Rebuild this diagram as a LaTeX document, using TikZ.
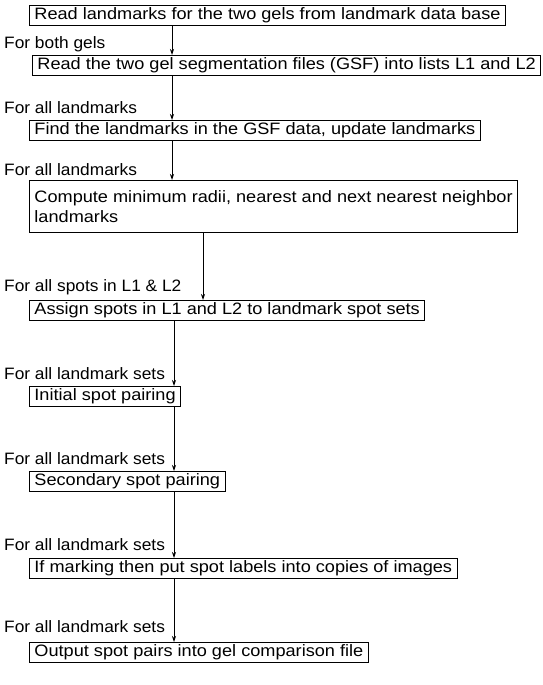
\documentclass[tikz,border=0pt]{standalone}
\usepackage{fontspec}
\setmainfont[FakeStretch=1.1]{Liberation Sans}
\newfontfamily\labfont[FakeStretch=1.05]{Liberation Sans}
\usetikzlibrary{arrows.meta}
\begin{document}
\begin{tikzpicture}[x=1pt,y=-1pt,
 box/.style={draw,line width=0.9pt,anchor=north west,inner xsep=5pt,inner ysep=0pt,align=left,minimum height=20pt,font=\fontsize{16.5}{20}\selectfont},
 lab/.style={anchor=west,inner sep=0pt,font=\labfont\fontsize{16.5}{20}\selectfont},
 arr/.style={line width=0.8pt,-{Stealth[length=6pt,width=4pt]}}]
\useasboundingbox (0,0) rectangle (543,685);
\node[box] (b1) at (29,5) {Read landmarks for the two gels from landmark data base};
\node[box] (b2) at (32,55) {Read the two gel segmentation files (GSF) into lists L1 and L2};
\node[box] (b3) at (29,120) {Find the landmarks in the GSF data, update landmarks};
\node[box,minimum height=52pt] (b4) at (29,180) {Compute minimum radii, nearest and next nearest neighbor\\landmarks};
\node[box] (b5) at (29,300) {Assign spots in L1 and L2 to landmark spot sets};
\node[box] (b6) at (29,386) {Initial spot pairing};
\node[box] (b7) at (29,471) {Secondary spot pairing};
\node[box] (b8) at (29,558) {If marking then put spot labels into copies of images};
\node[box] (b9) at (29,642) {Output spot pairs into gel comparison file};
\node[lab] (l1) at (4,44) {For both gels};
\node[lab] (l2) at (4,108) {For all landmarks};
\node[lab] (l3) at (4,170) {For all landmarks};
\node[lab] (l4) at (4,287) {For all spots in L1 \& L2};
\node[lab] (l5) at (4,374) {For all landmark sets};
\node[lab] (l6) at (4,459) {For all landmark sets};
\node[lab] (l7) at (4,545) {For all landmark sets};
\node[lab] (l8) at (4,627) {For all landmark sets};
\coordinate (xa) at (172,0);
\coordinate (xb) at (203,0);
\coordinate (xc) at (174,0);
\draw[arr] (b1.south -| xa) -- (b2.north -| xa);
\draw[arr] (b2.south -| xa) -- (b3.north -| xa);
\draw[arr] (b3.south -| xa) -- (b4.north -| xa);
\draw[arr] (b4.south -| xb) -- (b5.north -| xb);
\draw[arr] (b5.south -| xc) -- (b6.north -| xc);
\draw[arr] (b6.south -| xc) -- (b7.north -| xc);
\draw[arr] (b7.south -| xc) -- (b8.north -| xc);
\draw[arr] (b8.south -| xc) -- (b9.north -| xc);
\end{tikzpicture}
\end{document}
